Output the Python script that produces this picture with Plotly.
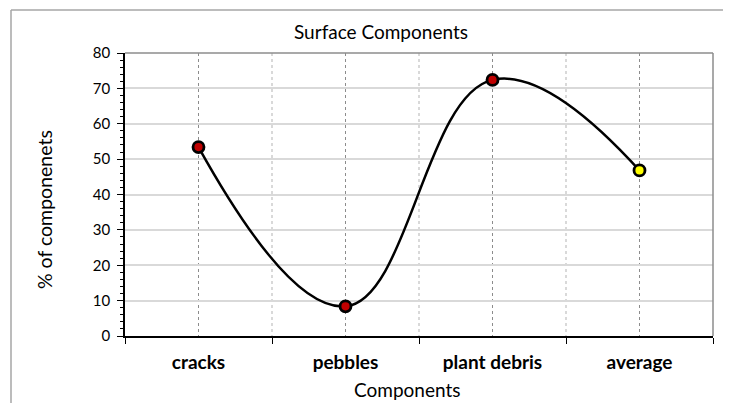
import plotly.graph_objects as go

categories = ["cracks", "pebbles", "plant debris", "average"]
values = [53.4, 8.4, 72.4, 46.8]
marker_colors = ["#C00000", "#C00000", "#C00000", "#FFFF00"]
y_ticks = [0, 10, 20, 30, 40, 50, 60, 70, 80]

# page is drawn with an 8px body margin; work in page pixels
OFF = 8
PW, PH = 731, 403
W, H = PW - OFF, PH - OFF
PL, PR, PT, PB = 125, 713, 53, 336          # plot area in page pixels
L, T = PL - OFF, PT - OFF
R, B = W - (PR - OFF), H - (PB - OFF)
pw, ph = PR - PL, PB - PT

def px_x(x):
    return (x - PL) / pw

def px_y(y):
    return (PB - y) / ph

FONT = "Lato"
xpos = list(range(len(categories)))

fig = go.Figure()
fig.add_trace(go.Scatter(
    x=xpos, y=values, mode="lines+markers",
    line=dict(color="black", width=2.5, shape="spline", smoothing=1.2),
    marker=dict(size=11, color=marker_colors, line=dict(color="black", width=2.8)),
    showlegend=False, hoverinfo="skip",
))

fig.update_layout(
    width=W, height=H,
    margin=dict(l=L, r=R, t=T, b=B, pad=0),
    paper_bgcolor="white", plot_bgcolor="white",
    font=dict(family=FONT, color="black"),
    xaxis=dict(
        range=[-0.5, len(categories) - 0.5],
        tickvals=xpos, ticktext=categories,
        tickfont=dict(size=19, family=FONT, weight="bold"),
        ticks="", showgrid=True, gridcolor="#8C8C8C", gridwidth=1, griddash="dot",
        showline=True, linecolor="black", linewidth=1.5,
        ticklabelstandoff=8,
        minor=dict(tick0=-0.5, dtick=1, ticks="outside", ticklen=6, tickcolor="black",
                   showgrid=True, gridcolor="#D9D9D9", gridwidth=1.5),
        zeroline=False,
    ),
    yaxis=dict(
        range=[0, 80], tickvals=y_ticks,
        tickfont=dict(size=15, family=FONT),
        ticks="outside", ticklen=6, tickcolor="black",
        showgrid=True, gridcolor="#D9D9D9", gridwidth=1.5,
        showline=True, linecolor="black", linewidth=1.5,
        ticklabelstandoff=4,
        minor=dict(dtick=2, ticks="outside", ticklen=3, tickcolor="black", showgrid=False),
        zeroline=False,
    ),
    shapes=[
        dict(type="line", xref="paper", yref="paper", x0=0, x1=1, y0=1, y1=1,
             line=dict(color="#8C8C8C", width=1.5), layer="above"),
        dict(type="line", xref="paper", yref="paper", x0=1, x1=1, y0=0, y1=1,
             line=dict(color="#8C8C8C", width=1.5), layer="above"),
        dict(type="line", xref="paper", yref="paper", x0=px_x(11), x1=px_x(11),
             y0=px_y(10), y1=px_y(420), line=dict(color="#A6A6A6", width=1.5)),
        dict(type="line", xref="paper", yref="paper", x0=px_x(11), x1=px_x(760),
             y0=px_y(10), y1=px_y(10), line=dict(color="#A6A6A6", width=1.5)),
    ],
    annotations=[
        dict(text="Surface Components", xref="paper", yref="paper",
             x=px_x(381), y=px_y(32), showarrow=False,
             font=dict(size=19, family=FONT), xanchor="center", yanchor="middle"),
        dict(text="Components", xref="paper", yref="paper",
             x=px_x(407), y=px_y(389), showarrow=False,
             font=dict(size=19, family=FONT), xanchor="center", yanchor="middle"),
        dict(text="% of componenets", xref="paper", yref="paper",
             x=px_x(45), y=px_y(209), showarrow=False, textangle=-90,
             font=dict(size=19.5, family=FONT), xanchor="center", yanchor="middle"),
    ],
)

fig.write_html("out.html")
